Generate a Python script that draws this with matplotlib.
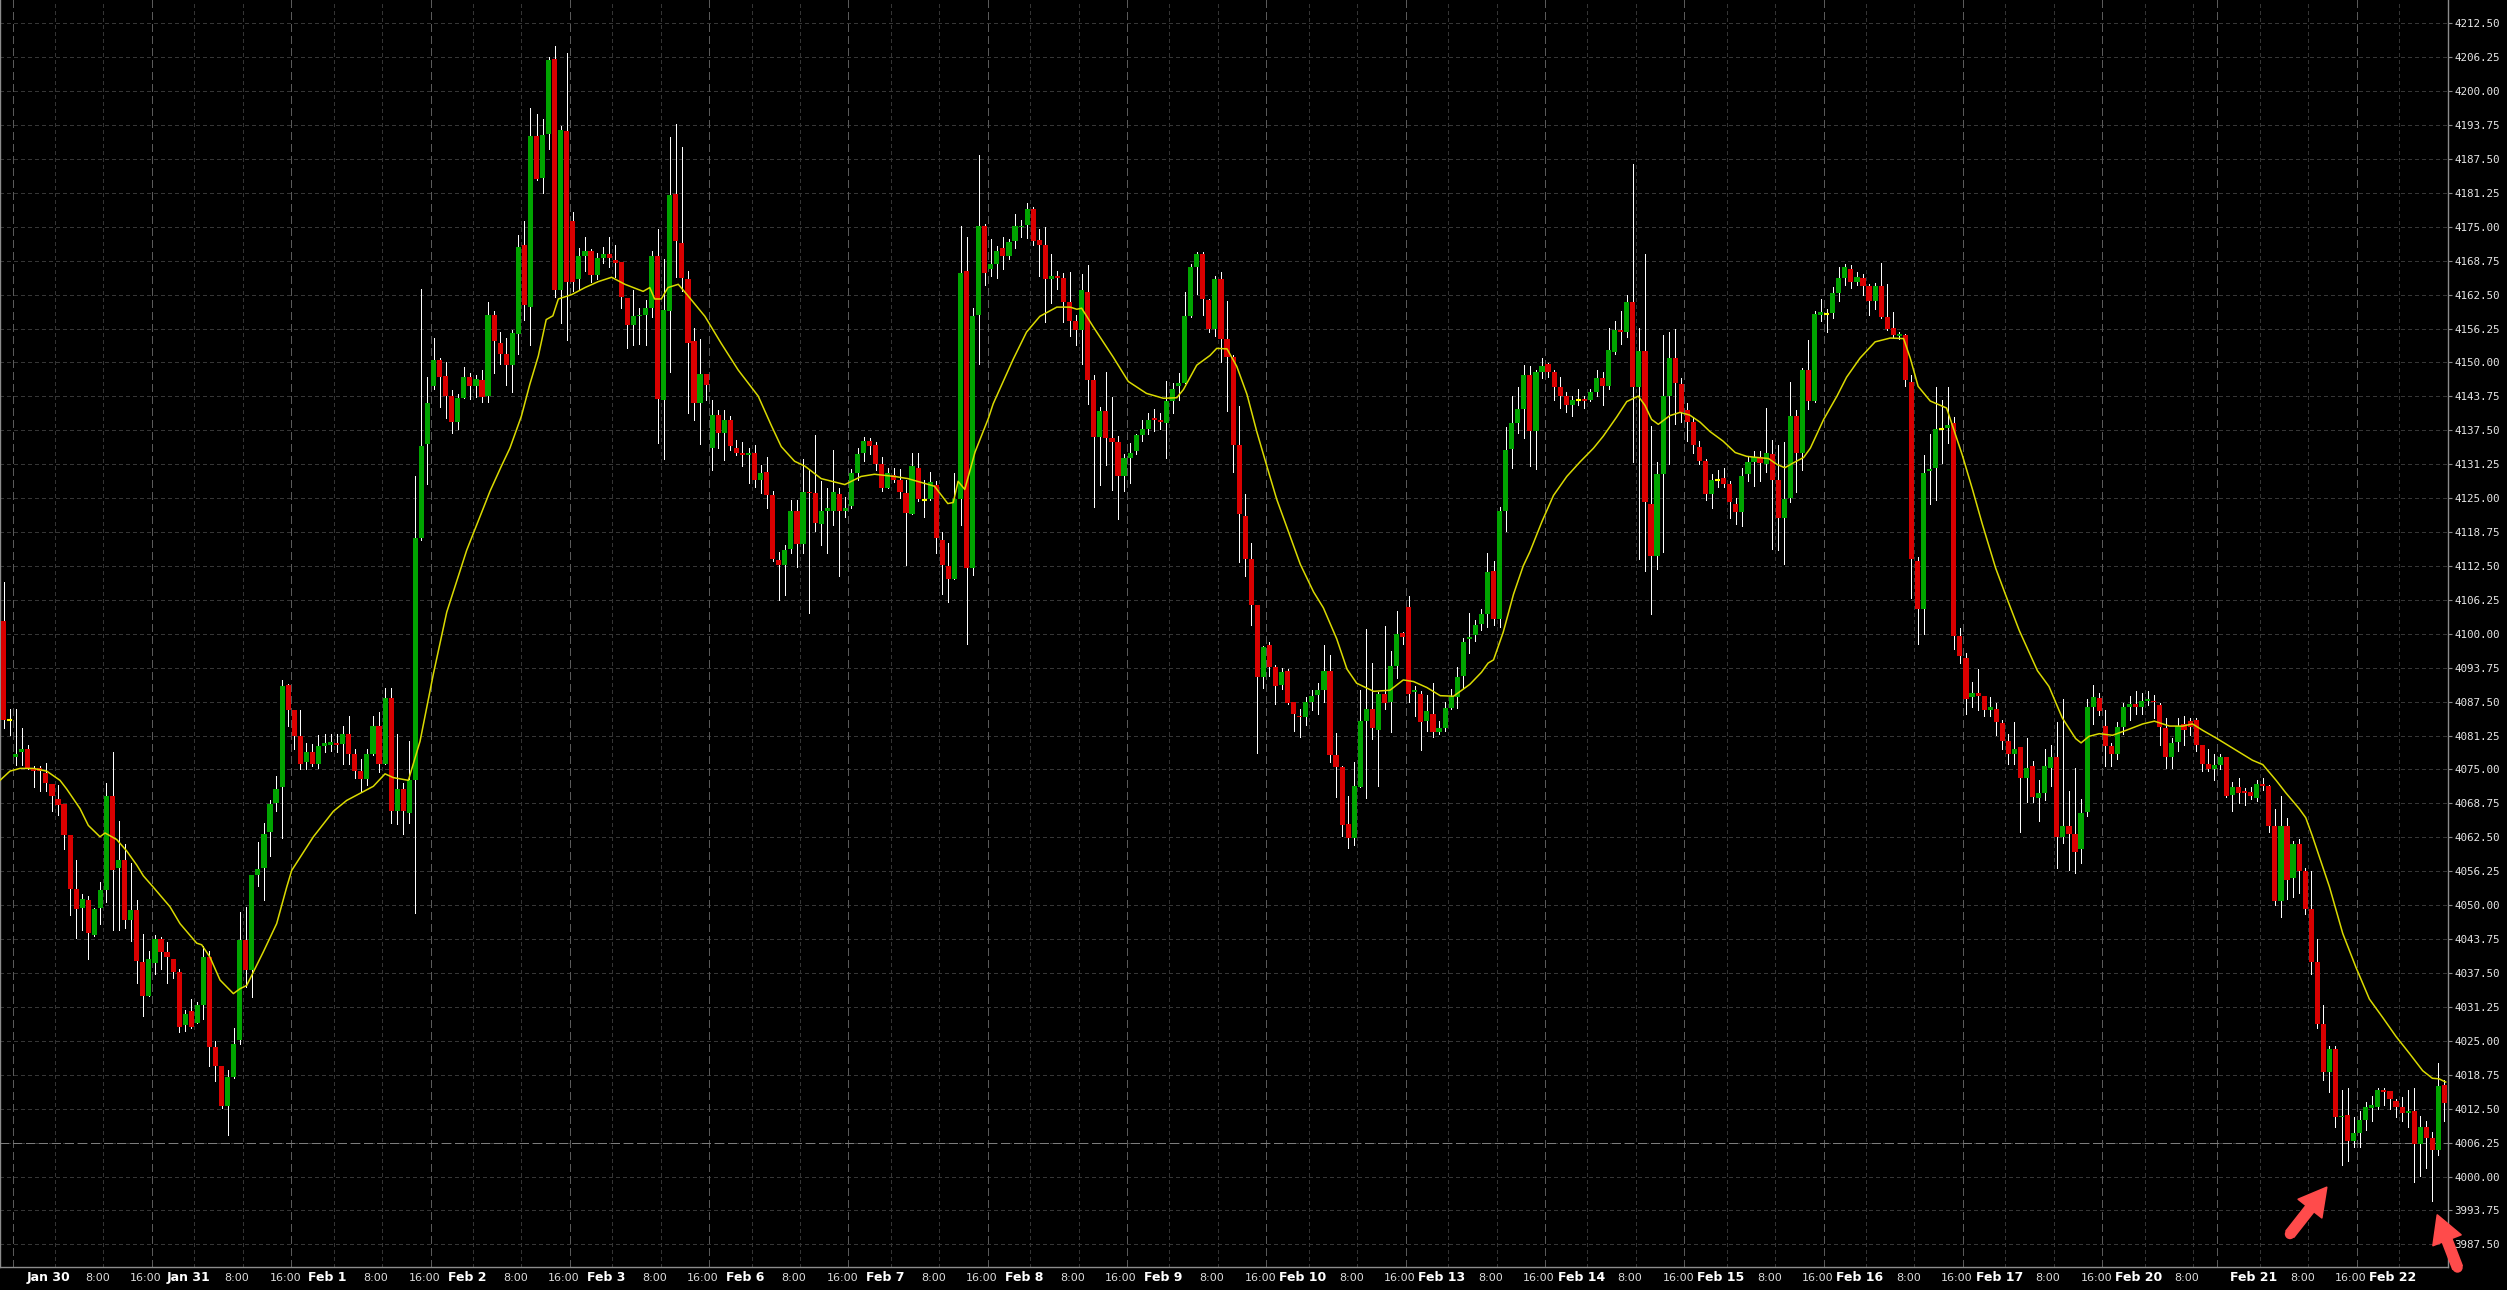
import numpy as np
import matplotlib
matplotlib.use("Agg")
import matplotlib.pyplot as plt
from matplotlib import transforms as mtransforms
from matplotlib.patches import FancyArrow, Circle

# ---------------- data (hourly OHLC) ----------------
opens = [
 4102.4, 4084.1, 4077.3, 4078.2, 4078.8, 4075.3, 4075.2, 4074.4, 4072.4, 4069.6,
 4068.7, 4063.0, 4052.9, 4049.4, 4050.9, 4044.5, 4049.4, 4052.8, 4070.2, 4056.9,
 4058.4, 4047.3, 4049.1, 4039.6, 4033.3, 4039.4, 4043.7, 4041.4, 4040.1, 4037.6,
 4027.9, 4030.5, 4028.2, 4031.6, 4040.4, 4023.8, 4020.4, 4012.9, 4018.3, 4025.2,
 4043.5, 4038.0, 4055.6, 4056.9, 4063.4, 4068.8, 4071.7, 4090.6, 4085.9, 4081.2,
 4076.3, 4078.2, 4076.1, 4079.4, 4079.6, 4079.9, 4079.7, 4081.5, 4077.9, 4074.8,
 4073.2, 4077.9, 4083.1, 4076.1, 4088.2, 4067.3, 4071.4, 4067.0, 4073.0, 4117.7,
 4134.9, 4145.6, 4150.4, 4147.5, 4143.9, 4139.0, 4143.4, 4147.3, 4145.6, 4146.7,
 4143.9, 4158.7, 4153.6, 4151.6, 4149.5, 4155.3, 4171.6, 4160.2, 4191.7, 4184.0,
 4192.1, 4206.0, 4163.4, 4192.7, 4176.0, 4165.3, 4169.6, 4170.5, 4166.2, 4169.2,
 4169.9, 4168.8, 4168.5, 4161.8, 4156.9, 4158.5, 4158.8, 4160.1, 4169.6, 4143.1,
 4159.5, 4181.0, 4172.0, 4165.3, 4154.0, 4142.5, 4147.9, 4134.2, 4140.3, 4137.0,
 4139.4, 4134.2, 4133.3, 4132.9, 4133.3, 4128.3, 4129.9, 4125.5, 4113.6, 4112.6,
 4115.7, 4122.7, 4116.6, 4126.2, 4126.0, 4120.3, 4122.6, 4122.7, 4125.7, 4122.6,
 4123.5, 4129.7, 4133.3, 4135.5, 4134.8, 4131.2, 4126.9, 4129.2, 4128.3, 4126.0,
 4122.0, 4130.6, 4124.7, 4124.9, 4127.5, 4117.2, 4112.5, 4110.1, 4124.9, 4166.8,
 4112.1, 4158.8, 4175.1, 4167.2, 4168.2, 4171.0, 4169.6, 4172.3, 4174.9, 4175.3,
 4178.2, 4172.5, 4171.6, 4165.3, 4166.0, 4165.6, 4161.1, 4157.7, 4155.9, 4162.9,
 4146.7, 4136.3, 4141.0, 4136.0, 4135.4, 4129.1, 4132.4, 4133.7, 4136.6, 4137.7,
 4139.7, 4139.4, 4138.8, 4142.9, 4145.6, 4146.3, 4158.5, 4167.6, 4169.9, 4161.5,
 4156.2, 4165.4, 4154.4, 4151.0, 4134.7, 4121.8, 4113.7, 4105.3, 4092.0, 4097.9,
 4093.9, 4090.5, 4093.2, 4087.5, 4084.9, 4084.7, 4087.5, 4088.8, 4089.6, 4093.2,
 4077.6, 4075.5, 4064.9, 4062.4, 4071.8, 4084.0, 4086.2, 4082.3, 4088.9, 4087.5,
 4094.1, 4100.1, 4104.9, 4089.2, 4089.0, 4084.0, 4085.3, 4081.9, 4082.6, 4086.4,
 4088.3, 4092.3, 4099.0, 4099.7, 4101.8, 4103.6, 4111.6, 4102.7, 4122.7, 4134.1,
 4138.8, 4141.4, 4147.7, 4137.3, 4148.3, 4149.7, 4148.2, 4145.4, 4143.8, 4142.2,
 4143.1, 4143.2, 4143.1, 4144.5, 4147.1, 4145.6, 4152.0, 4156.0, 4155.6, 4161.2,
 4145.4, 4152.1, 4124.0, 4114.4, 4129.4, 4143.8, 4150.9, 4146.0, 4141.2, 4139.0,
 4134.5, 4131.9, 4125.7, 4128.3, 4128.8, 4127.6, 4124.0, 4122.5, 4129.4, 4131.6,
 4132.5, 4131.2, 4133.2, 4128.4, 4121.4, 4125.1, 4140.2, 4133.4, 4148.6, 4142.9,
 4158.8, 4158.9, 4159.1, 4162.8, 4165.6, 4167.3, 4164.9, 4165.6, 4164.1, 4161.4,
 4164.1, 4158.4, 4156.4, 4154.9, 4155.1, 4146.4, 4113.4, 4104.5, 4130.0, 4130.6,
 4137.7, 4138.0, 4138.8, 4099.6, 4095.5, 4088.3, 4089.1, 4088.5, 4085.9, 4086.2,
 4083.6, 4080.3, 4077.9, 4079.1, 4073.4, 4075.7, 4069.8, 4070.7, 4075.3, 4077.3,
 4062.6, 4064.6, 4063.2, 4060.3, 4067.2, 4086.6, 4088.2, 4083.0, 4079.3, 4077.9,
 4082.8, 4086.5, 4087.1, 4086.5, 4087.7, 4087.7, 4086.8, 4082.6, 4077.3, 4080.0,
 4083.4, 4083.9, 4084.2, 4079.6, 4076.1, 4075.0, 4075.9, 4077.3, 4070.3, 4071.8,
 4071.0, 4070.9, 4069.8, 4072.4, 4071.9, 4064.6, 4050.8, 4064.6, 4055.0, 4061.2,
 4056.3, 4049.2, 4039.6, 4028.1, 4019.3, 4023.5, 4010.9, 4011.4, 4006.6, 4008.0,
 4010.5, 4012.7, 4012.8, 4016.0, 4015.7, 4014.0, 4012.8, 4011.7, 4012.0, 4005.9,
 4009.1, 4007.1, 4004.8, 4016.9]

highs = [
 4109.5, 4086.2, 4086.2, 4082.7, 4079.5, 4075.6, 4075.7, 4076.2, 4072.4, 4072.2,
 4068.7, 4063.0, 4058.4, 4052.1, 4051.6, 4049.5, 4054.3, 4072.6, 4078.2, 4065.5,
 4061.2, 4057.7, 4050.9, 4044.7, 4041.6, 4044.5, 4044.2, 4043.2, 4040.1, 4038.3,
 4030.7, 4032.8, 4032.1, 4042.4, 4041.6, 4024.9, 4020.4, 4019.7, 4027.4, 4048.7,
 4049.7, 4055.6, 4061.6, 4065.2, 4069.3, 4073.8, 4091.4, 4090.8, 4085.9, 4085.9,
 4079.9, 4079.7, 4081.3, 4081.5, 4081.5, 4081.5, 4083.1, 4084.9, 4078.7, 4076.9,
 4078.7, 4084.9, 4085.6, 4090.1, 4090.1, 4081.5, 4072.5, 4080.2, 4129.1, 4163.5,
 4147.3, 4154.5, 4150.8, 4150.1, 4144.9, 4144.2, 4149.1, 4148.0, 4147.7, 4148.7,
 4161.2, 4159.4, 4155.7, 4154.6, 4156.0, 4173.4, 4176.0, 4196.8, 4195.7, 4194.9,
 4206.2, 4208.4, 4193.6, 4207.0, 4177.7, 4171.0, 4173.2, 4170.9, 4170.1, 4171.2,
 4173.1, 4171.6, 4168.5, 4161.8, 4163.3, 4160.1, 4161.6, 4170.6, 4174.6, 4169.0,
 4191.6, 4194.0, 4189.7, 4166.8, 4156.4, 4154.3, 4147.9, 4143.1, 4141.2, 4141.2,
 4140.1, 4135.7, 4135.3, 4134.2, 4134.8, 4131.1, 4132.6, 4126.4, 4115.1, 4116.4,
 4124.6, 4124.6, 4132.3, 4130.3, 4136.6, 4128.1, 4126.8, 4133.9, 4126.8, 4125.3,
 4130.3, 4134.2, 4136.3, 4136.0, 4135.3, 4132.6, 4130.5, 4130.5, 4130.3, 4128.3,
 4133.3, 4133.3, 4128.4, 4129.9, 4128.1, 4118.8, 4116.8, 4129.7, 4175.1, 4173.1,
 4160.1, 4188.2, 4175.5, 4172.7, 4171.4, 4173.1, 4172.7, 4177.4, 4176.2, 4179.3,
 4178.7, 4174.6, 4175.0, 4169.9, 4166.9, 4166.5, 4166.7, 4158.7, 4166.3, 4167.9,
 4147.6, 4141.8, 4148.2, 4143.7, 4136.4, 4133.2, 4135.1, 4136.9, 4139.4, 4140.7,
 4141.4, 4140.7, 4146.5, 4146.3, 4148.0, 4163.0, 4168.2, 4170.3, 4170.3, 4161.7,
 4166.0, 4166.7, 4161.3, 4151.3, 4142.0, 4125.7, 4116.7, 4105.3, 4097.8, 4098.4,
 4094.3, 4093.7, 4093.5, 4087.5, 4086.2, 4088.3, 4089.6, 4090.9, 4098.0, 4096.1,
 4081.7, 4075.7, 4070.1, 4076.3, 4089.6, 4100.8, 4094.6, 4089.2, 4101.5, 4096.9,
 4104.2, 4100.4, 4107.0, 4090.3, 4089.5, 4088.8, 4090.9, 4084.0, 4087.5, 4089.8,
 4093.9, 4099.2, 4103.8, 4102.5, 4104.6, 4114.9, 4113.5, 4123.4, 4138.2, 4143.8,
 4145.4, 4149.5, 4149.3, 4148.6, 4150.8, 4149.9, 4148.6, 4147.3, 4144.5, 4143.8,
 4145.1, 4143.8, 4145.1, 4148.6, 4148.2, 4156.4, 4157.6, 4159.5, 4162.5, 4186.5,
 4156.4, 4169.9, 4138.3, 4131.6, 4155.0, 4155.7, 4156.2, 4147.1, 4142.5, 4139.9,
 4135.5, 4132.3, 4129.4, 4130.1, 4130.6, 4128.1, 4125.1, 4130.6, 4132.5, 4133.6,
 4133.6, 4141.6, 4135.8, 4134.7, 4135.3, 4146.4, 4141.2, 4148.9, 4154.1, 4159.5,
 4161.7, 4159.9, 4163.9, 4167.5, 4168.2, 4168.0, 4166.6, 4166.3, 4164.4, 4164.7,
 4168.4, 4164.4, 4159.3, 4155.6, 4155.3, 4147.7, 4114.2, 4132.9, 4136.9, 4145.4,
 4143.1, 4145.4, 4139.9, 4101.0, 4096.4, 4091.1, 4093.5, 4088.5, 4088.3, 4087.2,
 4084.2, 4081.6, 4083.7, 4079.1, 4080.8, 4076.5, 4073.0, 4078.8, 4079.6, 4083.7,
 4088.0, 4071.0, 4075.3, 4069.6, 4088.0, 4090.6, 4089.1, 4086.0, 4079.9, 4083.7,
 4087.2, 4088.6, 4089.5, 4089.1, 4089.5, 4088.8, 4087.2, 4084.5, 4080.8, 4084.5,
 4084.9, 4084.5, 4084.5, 4079.6, 4078.8, 4077.9, 4077.9, 4077.3, 4072.7, 4073.4,
 4071.5, 4071.8, 4073.0, 4073.4, 4072.2, 4067.8, 4070.1, 4066.1, 4061.8, 4062.1,
 4056.9, 4056.3, 4043.7, 4031.6, 4024.1, 4024.1, 4016.0, 4016.3, 4010.9, 4012.0,
 4013.7, 4014.9, 4016.3, 4016.3, 4015.8, 4014.3, 4014.7, 4016.0, 4016.3, 4011.2,
 4010.3, 4008.2, 4020.9, 4017.8]

lows = [
 4082.7, 4081.3, 4075.9, 4075.9, 4075.0, 4071.7, 4071.0, 4071.0, 4067.3, 4066.6,
 4060.4, 4048.1, 4044.0, 4045.4, 4040.0, 4044.3, 4046.6, 4050.6, 4045.5, 4045.5,
 4045.7, 4043.4, 4035.6, 4029.5, 4033.3, 4037.3, 4038.3, 4035.7, 4036.5, 4026.6,
 4026.9, 4027.4, 4028.2, 4029.0, 4020.4, 4017.6, 4012.7, 4007.6, 4018.1, 4024.5,
 4034.9, 4033.1, 4053.6, 4051.0, 4059.0, 4067.3, 4062.4, 4083.1, 4078.7, 4075.0,
 4075.0, 4075.6, 4075.3, 4078.2, 4078.4, 4078.2, 4076.1, 4076.1, 4073.5, 4071.1,
 4072.2, 4077.6, 4074.5, 4076.1, 4065.2, 4064.9, 4063.2, 4065.2, 4048.6, 4117.3,
 4127.6, 4145.2, 4141.8, 4139.7, 4137.0, 4137.7, 4143.4, 4143.2, 4143.6, 4142.8,
 4142.8, 4148.0, 4149.7, 4145.9, 4144.6, 4151.6, 4157.9, 4153.3, 4183.6, 4181.2,
 4189.4, 4162.0, 4157.2, 4154.2, 4163.1, 4163.4, 4166.8, 4164.9, 4165.3, 4168.3,
 4167.5, 4165.7, 4160.1, 4152.7, 4153.3, 4153.4, 4153.3, 4158.3, 4135.1, 4132.3,
 4148.3, 4165.7, 4163.1, 4140.7, 4139.4, 4134.9, 4143.1, 4130.1, 4134.2, 4132.0,
 4133.8, 4132.9, 4130.9, 4127.7, 4127.1, 4126.0, 4123.2, 4113.5, 4106.2, 4107.2,
 4114.9, 4112.3, 4114.8, 4103.8, 4119.0, 4116.3, 4114.8, 4120.1, 4110.6, 4121.5,
 4123.1, 4128.4, 4131.8, 4133.1, 4130.1, 4126.4, 4126.8, 4127.9, 4125.0, 4112.7,
 4122.0, 4124.4, 4121.6, 4124.6, 4114.9, 4107.4, 4105.9, 4110.1, 4120.0, 4098.1,
 4110.9, 4149.7, 4164.3, 4166.0, 4165.6, 4167.3, 4169.0, 4171.0, 4173.1, 4172.9,
 4171.6, 4166.0, 4157.4, 4160.9, 4163.5, 4157.4, 4154.9, 4153.2, 4149.7, 4142.4,
 4123.4, 4127.4, 4131.1, 4126.5, 4121.2, 4126.4, 4127.8, 4133.2, 4135.6, 4136.8,
 4137.3, 4137.7, 4132.4, 4140.7, 4143.0, 4146.3, 4158.3, 4162.6, 4158.7, 4155.6,
 4154.9, 4150.0, 4141.1, 4129.8, 4113.2, 4110.7, 4101.6, 4078.0, 4090.1, 4092.2,
 4087.1, 4089.8, 4087.1, 4082.1, 4081.0, 4083.2, 4086.0, 4085.3, 4087.5, 4076.3,
 4069.9, 4062.7, 4060.6, 4061.1, 4071.8, 4069.7, 4080.6, 4072.0, 4086.2, 4081.9,
 4091.8, 4098.2, 4087.5, 4084.9, 4078.6, 4082.1, 4081.0, 4081.5, 4082.1, 4086.2,
 4086.4, 4090.1, 4096.5, 4098.6, 4100.7, 4101.3, 4101.6, 4101.3, 4119.0, 4130.6,
 4137.0, 4136.0, 4130.9, 4130.3, 4147.1, 4147.3, 4143.0, 4141.6, 4140.8, 4140.2,
 4142.1, 4141.6, 4142.9, 4143.8, 4142.1, 4145.1, 4151.6, 4153.4, 4154.7, 4131.6,
 4113.8, 4111.6, 4103.6, 4112.0, 4115.1, 4131.2, 4138.6, 4139.0, 4135.5, 4133.4,
 4131.2, 4124.7, 4123.2, 4127.1, 4127.1, 4121.4, 4120.3, 4119.9, 4128.1, 4127.3,
 4128.1, 4129.9, 4115.7, 4115.5, 4112.9, 4124.2, 4126.2, 4130.1, 4141.4, 4142.8,
 4157.6, 4155.6, 4158.2, 4161.4, 4164.3, 4163.8, 4164.3, 4162.5, 4158.8, 4159.9,
 4158.2, 4156.0, 4154.7, 4154.3, 4145.6, 4106.6, 4098.1, 4099.9, 4124.0, 4124.7,
 4131.5, 4135.1, 4097.2, 4094.6, 4085.2, 4086.5, 4086.0, 4084.9, 4084.9, 4081.3,
 4078.8, 4076.1, 4076.1, 4063.5, 4069.0, 4069.0, 4065.5, 4069.4, 4071.9, 4056.9,
 4061.5, 4056.5, 4056.0, 4057.7, 4066.4, 4083.4, 4085.1, 4075.7, 4075.7, 4077.0,
 4081.6, 4084.2, 4085.3, 4085.3, 4086.8, 4084.5, 4079.6, 4075.3, 4075.3, 4078.4,
 4079.6, 4081.4, 4078.4, 4074.7, 4074.7, 4073.0, 4075.0, 4069.9, 4067.3, 4068.8,
 4068.4, 4069.5, 4069.2, 4071.3, 4063.5, 4050.0, 4047.9, 4051.1, 4051.5, 4052.3,
 4048.3, 4037.3, 4027.3, 4017.8, 4015.5, 4009.1, 4002.2, 4002.8, 4005.4, 4005.4,
 4008.6, 4010.3, 4012.4, 4013.2, 4012.4, 4010.9, 4010.3, 4009.1, 3999.0, 4000.1,
 4001.6, 3995.5, 4003.9, 4010.3]

closes = [
 4084.2, 4084.1, 4077.9, 4078.8, 4075.3, 4074.7, 4074.7, 4072.5, 4070.1, 4068.4,
 4063.0, 4052.9, 4049.2, 4051.2, 4044.8, 4049.2, 4052.8, 4070.2, 4056.4, 4058.4,
 4047.2, 4049.1, 4039.7, 4033.3, 4040.1, 4043.7, 4041.4, 4040.4, 4037.6, 4027.6,
 4030.0, 4027.6, 4031.6, 4040.4, 4023.8, 4020.4, 4012.9, 4018.3, 4024.5, 4043.5,
 4038.0, 4055.6, 4056.6, 4063.1, 4068.6, 4071.4, 4090.4, 4085.9, 4081.2, 4076.1,
 4078.2, 4076.1, 4079.4, 4079.9, 4080.0, 4079.6, 4081.5, 4077.9, 4074.8, 4073.2,
 4077.9, 4083.1, 4076.1, 4088.2, 4067.3, 4071.4, 4067.3, 4073.0, 4117.7, 4134.6,
 4142.5, 4150.4, 4147.3, 4143.9, 4139.0, 4143.4, 4147.3, 4145.6, 4147.0, 4143.6,
 4158.7, 4153.9, 4151.6, 4149.5, 4155.5, 4171.2, 4160.6, 4191.7, 4183.8, 4192.0,
 4205.7, 4163.4, 4192.9, 4164.9, 4164.9, 4169.6, 4170.5, 4166.2, 4169.2, 4169.9,
 4169.2, 4168.4, 4162.0, 4156.9, 4158.5, 4158.8, 4160.0, 4169.6, 4143.2, 4159.7,
 4180.8, 4172.3, 4165.5, 4153.6, 4142.5, 4147.9, 4145.9, 4140.3, 4137.0, 4139.4,
 4134.6, 4133.3, 4132.9, 4133.3, 4128.3, 4129.7, 4125.5, 4113.8, 4112.6, 4115.5,
 4122.7, 4116.6, 4126.2, 4125.9, 4120.5, 4122.7, 4123.1, 4126.1, 4122.7, 4123.2,
 4129.7, 4133.1, 4135.5, 4134.6, 4131.2, 4126.8, 4129.7, 4128.3, 4126.2, 4122.3,
 4131.0, 4124.9, 4124.7, 4127.9, 4117.7, 4112.6, 4110.1, 4124.9, 4166.4, 4112.1,
 4158.6, 4175.1, 4166.4, 4168.2, 4170.6, 4169.7, 4172.2, 4175.1, 4175.2, 4178.2,
 4172.3, 4171.6, 4165.3, 4166.0, 4165.6, 4161.1, 4157.7, 4155.9, 4163.3, 4146.7,
 4136.3, 4141.0, 4136.0, 4135.4, 4129.1, 4132.4, 4133.4, 4136.6, 4137.7, 4139.4,
 4139.4, 4139.0, 4142.9, 4145.2, 4146.3, 4158.5, 4167.6, 4169.9, 4161.7, 4156.2,
 4165.4, 4154.3, 4151.0, 4134.7, 4122.1, 4113.7, 4105.3, 4092.0, 4097.5, 4093.9,
 4090.3, 4092.9, 4087.2, 4085.3, 4084.6, 4087.5, 4088.5, 4089.6, 4093.2, 4077.6,
 4075.5, 4064.7, 4062.4, 4072.0, 4084.0, 4086.2, 4082.6, 4088.9, 4087.2, 4094.1,
 4099.9, 4099.5, 4089.0, 4089.6, 4083.8, 4085.8, 4081.9, 4082.6, 4086.4, 4088.3,
 4092.0, 4098.5, 4099.5, 4101.6, 4103.6, 4111.4, 4102.7, 4122.7, 4133.8, 4138.8,
 4141.4, 4147.7, 4137.3, 4148.2, 4149.4, 4148.2, 4145.4, 4143.8, 4142.1, 4143.0,
 4143.1, 4142.9, 4144.5, 4147.1, 4145.6, 4152.3, 4156.0, 4155.6, 4161.2, 4145.4,
 4152.1, 4124.2, 4114.4, 4129.4, 4143.8, 4150.9, 4146.2, 4140.8, 4139.0, 4134.7,
 4131.9, 4125.7, 4128.3, 4128.3, 4127.6, 4124.2, 4122.5, 4129.0, 4131.6, 4132.5,
 4131.5, 4133.4, 4128.4, 4121.4, 4124.9, 4140.2, 4133.4, 4148.6, 4142.9, 4159.0,
 4159.3, 4158.9, 4162.8, 4165.6, 4167.5, 4164.9, 4165.7, 4164.1, 4161.4, 4164.1,
 4158.4, 4156.2, 4155.0, 4155.1, 4146.7, 4113.8, 4104.5, 4129.7, 4130.3, 4137.7,
 4137.7, 4138.4, 4099.6, 4095.9, 4087.9, 4089.1, 4088.5, 4085.9, 4086.5, 4083.7,
 4080.3, 4077.8, 4078.8, 4073.4, 4075.3, 4069.9, 4070.7, 4075.7, 4077.3, 4062.6,
 4064.6, 4063.2, 4059.8, 4066.9, 4086.6, 4088.3, 4085.7, 4079.3, 4077.9, 4082.8,
 4086.5, 4087.1, 4086.5, 4087.7, 4088.0, 4087.4, 4082.8, 4077.3, 4079.9, 4083.0,
 4082.2, 4082.8, 4079.6, 4076.1, 4075.0, 4075.9, 4077.3, 4070.1, 4071.8, 4070.7,
 4070.6, 4070.1, 4072.4, 4071.9, 4064.6, 4050.8, 4064.6, 4054.6, 4061.2, 4056.3,
 4049.2, 4039.6, 4028.1, 4019.3, 4023.5, 4010.9, 4011.2, 4006.6, 4008.0, 4010.5,
 4012.8, 4013.2, 4016.0, 4015.5, 4014.3, 4012.8, 4011.7, 4012.0, 4005.9, 4009.1,
 4007.1, 4004.8, 4016.6, 4013.5]

# moving-average line, read at sample positions (bar index, price)
ma_x = [-0.58, 1.07, 2.72, 4.93, 7.13, 9.33, 10.43, 12.63, 14.0, 15.93, 16.76, 18.68,
        20.33, 21.99, 23.09, 24.74, 27.49, 29.14, 31.89, 32.72, 34.1, 35.75, 37.95,
        39.05, 40.15, 42.9, 45.1, 46.75, 47.58, 51.16, 54.46, 56.66, 58.86, 61.06,
        62.99, 64.36, 66.84, 68.77, 70.97, 73.18, 76.47, 78.67, 80.33, 82.2, 83.6,
        85.5, 86.9, 88.3, 89.6, 90.7, 91.6, 93.8, 96.0, 98.2, 100.4, 102.6, 105.6,
        106.7, 107.5, 108.6, 109.7, 111.4, 113.0, 115.8, 118.5, 121.3, 124.6, 126.8,
        128.4, 130.6, 132.3, 135.0, 138.9, 141.6, 143.8, 147.1, 149.3, 151.5, 153.7,
        155.9, 156.8, 157.6, 158.7, 160.4, 162.6, 163.4, 166.7, 168.9, 171.1, 173.9,
        176.1, 177.2, 178.0, 179.9, 183.2, 185.7, 188.7, 191.5, 193.7, 194.8, 197.0,
        199.2, 200.3, 202.0, 203.6, 205.3, 206.9, 208.6, 210.2, 212.4, 214.1, 216.3,
        217.9, 220.1, 221.8, 223.4, 226.2, 228.9, 231.1, 232.8, 235.0, 237.2, 239.4,
        241.0, 242.1, 244.0, 245.1, 246.0, 247.6, 249.3, 250.9, 252.0, 254.0, 255.9,
        258.1, 260.3, 262.5, 264.1, 266.3, 268.0, 269.9, 271.0, 272.1, 273.2, 275.1,
        276.8, 278.4, 280.1, 281.7, 283.9, 285.9, 287.8, 289.5, 291.4, 292.8, 294.1,
        295.5, 297.2, 298.3, 300.5, 302.7, 304.3, 306.5, 309.0, 311.5, 313.7, 314.8,
        316.1, 318.1, 320.8, 323.4, 325.1, 326.7, 328.9, 330.6, 332.8, 335.8, 337.7,
        339.9, 342.1, 343.0, 344.3, 346.0, 348.2, 350.4, 353.2, 355.1, 357.6, 359.8,
        361.4, 363.1, 365.3, 367.5, 369.1, 371.3, 373.0, 374.3, 375.2, 376.8, 379.0,
        380.1, 381.2, 384.0, 386.2, 388.4, 390.6, 392.8, 395.0, 397.2, 399.4, 401.0,
        402.1, 403.2]
ma_v = [4073.0, 4074.7, 4075.2, 4075.2, 4074.7, 4073.0, 4071.4, 4067.8, 4064.7, 4062.6,
        4063.3, 4062.1, 4060.0, 4057.4, 4055.4, 4053.3, 4049.7, 4046.6, 4043.0, 4042.7,
        4040.4, 4036.2, 4033.7, 4034.6, 4035.2, 4041.4, 4046.6, 4053.3, 4056.4, 4062.6,
        4067.3, 4069.3, 4070.6, 4071.9, 4074.2, 4073.5, 4073.0, 4080.2, 4092.6, 4104.0,
        4115.4, 4121.6, 4126.3, 4130.9, 4134.2, 4140.1, 4146.0, 4151.2, 4157.9, 4158.6,
        4161.7, 4162.5, 4163.8, 4164.9, 4165.7, 4164.4, 4163.1, 4163.8, 4161.7, 4161.7,
        4163.8, 4164.4, 4162.3, 4158.5, 4153.5, 4148.6, 4143.8, 4138.3, 4134.5, 4131.8,
        4130.9, 4128.6, 4127.5, 4129.0, 4129.4, 4129.0, 4128.6, 4127.9, 4127.2, 4124.0,
        4124.2, 4128.1, 4126.6, 4133.5, 4139.7, 4142.4, 4150.6, 4155.6, 4158.5, 4160.2,
        4160.2, 4159.8, 4160.0, 4156.6, 4151.0, 4146.5, 4144.3, 4143.4, 4143.5, 4145.0,
        4149.5, 4151.3, 4152.6, 4152.5, 4149.3, 4144.1, 4137.3, 4130.8, 4124.8, 4118.0,
        4112.8, 4107.7, 4104.8, 4099.1, 4093.5, 4090.9, 4089.4, 4089.6, 4091.5, 4091.2,
        4090.1, 4088.6, 4088.5, 4089.8, 4090.7, 4092.9, 4094.6, 4095.2, 4100.3, 4107.3,
        4112.5, 4115.1, 4120.7, 4125.5, 4129.0, 4131.7, 4134.2, 4136.4, 4139.9, 4142.8,
        4143.8, 4142.1, 4139.5, 4138.6, 4140.2, 4140.8, 4140.3, 4139.0, 4137.3, 4135.5,
        4133.4, 4132.7, 4132.5, 4132.3, 4131.2, 4130.6, 4131.5, 4132.5, 4134.2, 4139.5,
        4143.8, 4147.3, 4150.8, 4153.8, 4154.5, 4154.4, 4150.8, 4145.6, 4142.9, 4141.6,
        4132.9, 4126.5, 4120.2, 4112.1, 4107.0, 4100.6, 4093.2, 4090.3, 4084.5, 4080.7,
        4079.9, 4081.1, 4081.6, 4081.3, 4082.2, 4083.4, 4083.9, 4083.0, 4083.0, 4083.4,
        4082.2, 4080.8, 4079.3, 4078.2, 4076.7, 4075.9, 4074.2, 4073.0, 4070.7, 4067.8,
        4066.1, 4062.7, 4053.4, 4044.8, 4038.5, 4032.7, 4029.3, 4025.8, 4022.7, 4019.5,
        4018.1, 4018.0, 4017.4]

# time axis: first hourly bar of each session date
day_names = ["Jan 30", "Jan 31", "Feb 1", "Feb 2", "Feb 3", "Feb 6", "Feb 7", "Feb 8",
             "Feb 9", "Feb 10", "Feb 13", "Feb 14", "Feb 15", "Feb 16", "Feb 17",
             "Feb 20", "Feb 21", "Feb 22"]
day_first_bar = [9, 32, 55, 78, 101, 124, 147, 170, 193, 216, 239, 262, 285, 308, 331,
                 354, 373, 396]
early_close_day = "Feb 20"
price_line_level = 4006.25
price_ticks = [3987.50 + 6.25 * k for k in range(37)]

# ---------------- figure ----------------
W, H, DPI = 2507, 1290, 100
fig = plt.figure(figsize=(W / DPI, H / DPI), dpi=DPI, facecolor="black")
ax = fig.add_axes([0.0, 1 - 1266.7 / H, 2448.0 / W, 1266.7 / H])
ax.set_facecolor("black")

n = len(closes)
x = np.arange(n)
o = np.array(opens); c = np.array(closes); hi = np.array(highs); lo = np.array(lows)

xmin, xmax = -0.578, 403.58
ax.set_xlim(xmin, xmax)
ax.set_ylim(3983.38, 4216.79)

# grid
for p in price_ticks:
    ax.axhline(p, color="#363636", lw=0.75, ls=(0, (3, 3)), zorder=0.5, antialiased=False)

bright_lines = [1.5]
dim_lines = []
labels = []
for name, b in zip(day_names, day_first_bar):
    dim_lines.append(b - 0.5)
    labels.append((b - 0.5, name, True))
    if b + 7.5 < xmax - 0.5:
        dim_lines.append(b + 7.5)
        labels.append((b + 7.5, "8:00", False))
    if name == early_close_day:
        bright_lines.append(b + 11.5)
    elif b + 15.5 < xmax - 0.5:
        bright_lines.append(b + 15.5)
        labels.append((b + 15.5, "16:00", False))

for g in dim_lines:
    ax.axvline(g, color="#343434", lw=0.75, ls=(0, (3, 3)), zorder=0.5, antialiased=False)
for g in bright_lines:
    ax.axvline(g, color="#5a5a5a", lw=0.75, ls=(0, (7, 4)), zorder=0.6, antialiased=False)

ax.axhline(price_line_level, color="#7c7c7c", lw=0.75, ls=(0, (8, 4)), zorder=0.7,
           antialiased=False)

# candles
up = c > o
down = c < o
doji = c == o
ax.vlines(x, lo, hi, color="white", lw=0.7, zorder=2, antialiased=False)
body_bottom = np.minimum(o, c)
body_h = np.maximum(np.abs(c - o), 0.3)
bw = 0.85
ax.bar(x[up], body_h[up], bottom=body_bottom[up], width=bw, color="#00a400",
       linewidth=0, zorder=3, antialiased=False)
ax.bar(x[down], body_h[down], bottom=body_bottom[down], width=bw, color="#da0000",
       linewidth=0, zorder=3, antialiased=False)
ax.hlines(c[doji], x[doji] - bw / 2, x[doji] + bw / 2, color="#ffff00", lw=1.5, zorder=3)

# moving average
ax.plot(ma_x, ma_v, color="#dada00", lw=1.1, zorder=4)

# axes styling
for side in ["left", "bottom", "right"]:
    ax.spines[side].set_color("#8c8c8c")
    ax.spines[side].set_linewidth(1.0)
ax.spines["top"].set_visible(False)
ax.yaxis.tick_right()
ax.set_yticks(price_ticks)
ax.set_yticklabels([f"{p:.2f}" for p in price_ticks])
ax.tick_params(axis="y", which="major", length=3, width=0.8, color="#8c8c8c", pad=1.5,
               labelsize=7.8, labelcolor="#e8e8e8")
for t in ax.get_yticklabels():
    t.set_fontfamily("DejaVu Sans Mono")
ax.set_xticks([])

trans = mtransforms.blended_transform_factory(ax.transData, ax.transAxes)
base_y = -14.0 / 1266.7
for g, s, is_date in labels:
    if is_date:
        ax.text(g - 1.0, base_y, s, transform=trans, ha="center", va="baseline",
                fontsize=9.0, fontweight="bold", color="white", clip_on=False)
    else:
        ax.text(g - 1.0, base_y, s, transform=trans, ha="center", va="baseline",
                fontsize=8.0, color="#dcdcdc", clip_on=False)

# red annotation arrows (pixel coordinates of the figure)
ident = mtransforms.IdentityTransform()
arrow_col = "#ff4b4b"
for (tx, ty, dx, dy) in [(2290.0, 56.0, 36.7, 46.7), (2457.5, 22.5, -20.2, 52.5)]:
    arr = FancyArrow(tx, ty, dx, dy, width=10, head_width=30, head_length=27,
                     length_includes_head=True, facecolor=arrow_col, edgecolor=arrow_col,
                     linewidth=1.2, joinstyle="round", transform=ident, zorder=10)
    arr.set_clip_on(False)
    fig.add_artist(arr)
    circ = Circle((tx, ty), 5.2, transform=ident, facecolor=arrow_col, edgecolor="none",
                  zorder=10)
    circ.set_clip_on(False)
    fig.add_artist(circ)

fig.savefig("out.png", dpi=DPI, facecolor="black")
